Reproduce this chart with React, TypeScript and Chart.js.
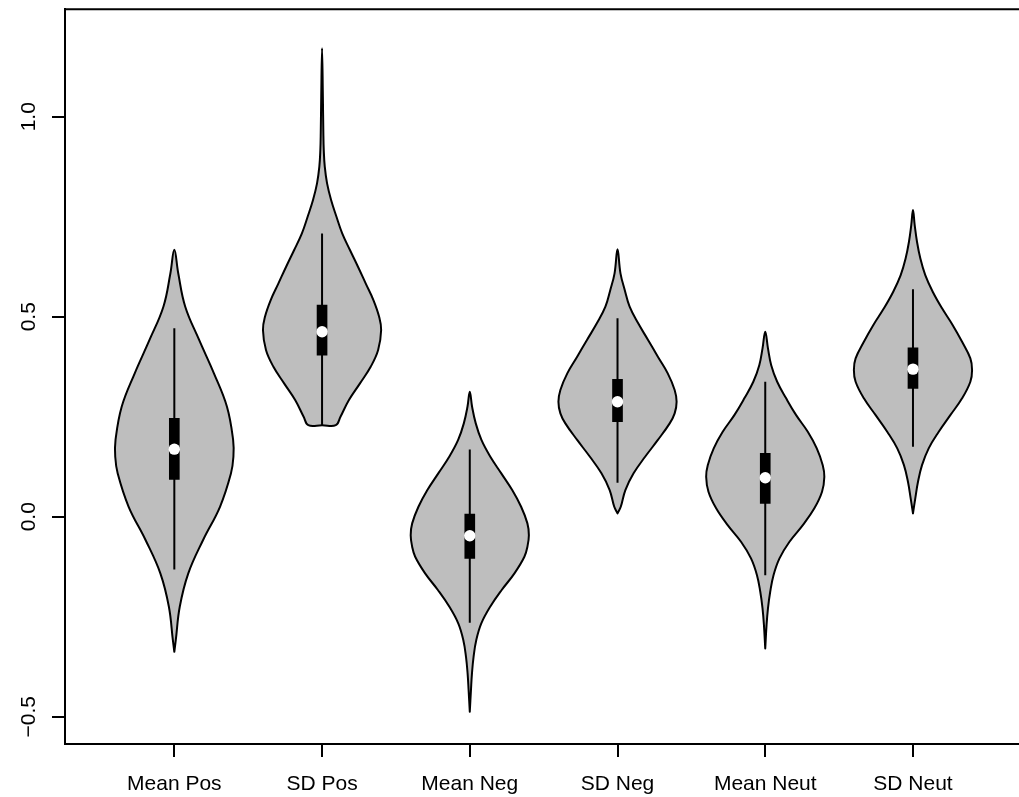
import { useEffect, useRef } from "react";
import { Chart, registerables } from "chart.js";

Chart.register(...registerables);

// ---------------- data ----------------
const categories = ["Mean Pos", "SD Pos", "Mean Neg", "SD Neg", "Mean Neut", "SD Neut"];
const xTickValues = [1, 2, 3, 4, 5, 6];
const yTickValues = [-0.5, 0, 0.5, 1.0];
const yTickLabels = ["\u22120.5", "0.0", "0.5", "1.0"];

// violin outlines: values (top to bottom) and relative density (0..1)
const meanPosY = [0.6675, 0.608, 0.525, 0.442, 0.358, 0.275, 0.192, 0.15, 0.108, 0.025, -0.058, -0.142, -0.225, -0.308, -0.3375];
const meanPosDensity = [0, 0.067, 0.185, 0.42, 0.672, 0.891, 0.995, 1.0, 0.958, 0.773, 0.487, 0.235, 0.092, 0.025, 0];

const sdPosY = [1.171, 1.05, 0.96, 0.917, 0.875, 0.8335, 0.792, 0.75, 0.7085, 0.6668, 0.625, 0.5835, 0.5418, 0.5, 0.4668, 0.4168, 0.375, 0.3335, 0.2918, 0.25, 0.229];
const sdPosDensity = [0, 0.014, 0.022, 0.029, 0.046, 0.085, 0.153, 0.244, 0.341, 0.472, 0.608, 0.738, 0.869, 0.966, 1.0, 0.949, 0.823, 0.642, 0.455, 0.312, 0.233];

const meanNegY = [0.3125, 0.275, 0.2335, 0.192, 0.15, 0.1085, 0.0668, 0.025, -0.0165, -0.046, -0.075, -0.1, -0.1415, -0.183, -0.225, -0.2665, -0.308, -0.35, -0.3915, -0.433, -0.4875];
const meanNegDensity = [0, 0.039, 0.101, 0.197, 0.348, 0.533, 0.718, 0.869, 0.975, 1.0, 0.975, 0.924, 0.756, 0.54, 0.345, 0.195, 0.11, 0.064, 0.037, 0.02, 0];

const sdNegY = [0.6685, 0.6085, 0.567, 0.525, 0.4835, 0.442, 0.4, 0.3585, 0.317, 0.2875, 0.2585, 0.2335, 0.192, 0.15, 0.1085, 0.0668, 0.025, 0.0085];
const sdNegDensity = [0, 0.05, 0.122, 0.205, 0.35, 0.517, 0.683, 0.85, 0.967, 1.0, 0.967, 0.883, 0.683, 0.467, 0.272, 0.133, 0.055, 0];

const meanNeutY = [0.4625, 0.421, 0.379, 0.3375, 0.296, 0.254, 0.2125, 0.171, 0.129, 0.1, 0.0625, 0.021, -0.021, -0.0625, -0.104, -0.146, -0.1875, -0.229, -0.271, -0.329];
const meanNeutDensity = [0, 0.046, 0.101, 0.202, 0.354, 0.523, 0.72, 0.872, 0.973, 1.0, 0.961, 0.831, 0.636, 0.41, 0.241, 0.14, 0.084, 0.046, 0.022, 0];

const sdNeutY = [0.7667, 0.729, 0.6875, 0.646, 0.604, 0.5625, 0.521, 0.479, 0.4375, 0.396, 0.367, 0.3375, 0.296, 0.254, 0.2125, 0.171, 0.129, 0.0875, 0.046, 0.0085];
const sdNeutDensity = [0, 0.029, 0.068, 0.124, 0.208, 0.334, 0.492, 0.673, 0.831, 0.971, 1.0, 0.971, 0.831, 0.632, 0.436, 0.266, 0.153, 0.085, 0.039, 0];

// box-plot statistics per category
const q1 = [0.0935, 0.404, -0.104, 0.2375, 0.0335, 0.321];
const q3 = [0.246, 0.529, 0.0067, 0.3435, 0.1585, 0.4225];
const medians = [0.169, 0.4625, -0.0475, 0.2875, 0.0975, 0.369];
const whiskerLow = [-0.1317, 0.229, -0.265, 0.085, -0.146, 0.175];
const whiskerHigh = [0.471, 0.708, 0.1683, 0.496, 0.3375, 0.5685];

// ---------------- helpers ----------------
const violinYs = [meanPosY, sdPosY, meanNegY, sdNegY, meanNeutY, sdNeutY];
const violinDensities = [meanPosDensity, sdPosDensity, meanNegDensity, sdNegDensity, meanNeutDensity, sdNeutDensity];
const HALF_WIDTH = 0.4; // max half width in category units

function outline(center: number, ys: number[], dens: number[]) {
  const n = ys.length;
  const pts: { x: number; y: number }[] = [];
  if (dens[n - 1] > 0) pts.push({ x: center, y: ys[n - 1] });
  for (let i = n - 1; i >= 0; i--) pts.push({ x: center + HALF_WIDTH * dens[i], y: ys[i] });
  for (let i = 1; i < n; i++) pts.push({ x: center - HALF_WIDTH * dens[i], y: ys[i] });
  if (dens[n - 1] > 0) pts.push({ x: center, y: ys[n - 1] });
  return pts;
}

const FONT = '21px "Liberation Sans", Arial, Helvetica, sans-serif';
const LW = 2;

const axisTextPlugin = {
  id: "axisText",
  afterDraw(chart: any) {
    const { ctx, chartArea, scales } = chart;
    ctx.save();
    ctx.strokeStyle = "#000";
    ctx.lineWidth = LW;
    ctx.beginPath();
    ctx.moveTo(chartArea.left - 1, chartArea.top);
    ctx.lineTo(chartArea.right, chartArea.top);
    ctx.stroke();
    ctx.fillStyle = "#000";
    ctx.font = FONT;
    ctx.textAlign = "center";
    ctx.textBaseline = "alphabetic";
    categories.forEach((c, i) => {
      ctx.fillText(c, scales.x.getPixelForValue(xTickValues[i]), chartArea.bottom + 46);
    });
    yTickValues.forEach((v, i) => {
      const py = scales.y.getPixelForValue(v);
      ctx.save();
      ctx.translate(chartArea.left - 30.5, py);
      ctx.rotate(-Math.PI / 2);
      ctx.fillText(yTickLabels[i], 0, 0);
      ctx.restore();
    });
    ctx.restore();
  },
};

export default function App() {
  const ref = useRef<HTMLCanvasElement | null>(null);

  useEffect(() => {
    if (!ref.current) return;
    const datasets: any[] = [];

    violinYs.forEach((ys, i) => {
      datasets.push({
        type: "line",
        label: categories[i],
        data: outline(xTickValues[i], ys, violinDensities[i]),
        borderColor: "#000",
        borderWidth: LW,
        backgroundColor: "#BEBEBE",
        fill: "shape",
        tension: 0.4,
        pointRadius: 0,
        borderJoinStyle: "round",
        borderCapStyle: "round",
        order: 4,
      });
    });

    categories.forEach((c, i) => {
      datasets.push({
        type: "line",
        label: c + " whisker",
        data: [
          { x: xTickValues[i], y: whiskerLow[i] },
          { x: xTickValues[i], y: whiskerHigh[i] },
        ],
        borderColor: "#000",
        borderWidth: LW,
        pointRadius: 0,
        fill: false,
        order: 3,
      });
    });

    datasets.push({
      type: "bar",
      label: "IQR",
      data: categories.map((_, i) => ({ x: xTickValues[i], y: [q1[i], q3[i]] })),
      backgroundColor: "#000",
      borderWidth: 0,
      barThickness: 10,
      grouped: false,
      order: 2,
    });

    datasets.push({
      type: "scatter",
      label: "median",
      data: categories.map((_, i) => ({ x: xTickValues[i], y: medians[i] })),
      backgroundColor: "#fff",
      borderColor: "#fff",
      borderWidth: 0,
      pointRadius: 5.7,
      order: 1,
    });

    const chart = new Chart(ref.current, {
      type: "scatter",
      data: { datasets },
      options: {
        animation: false,
        responsive: false,
        devicePixelRatio: 1,
        layout: { padding: { top: 9.3, left: 0, right: 0, bottom: 0 } },
        plugins: { legend: { display: false }, tooltip: { enabled: false } },
        scales: {
          x: {
            type: "linear",
            min: 0.26,
            max: 6.74,
            offset: false,
            afterBuildTicks: (s: any) => {
              s.ticks = xTickValues.map((v) => ({ value: v }));
            },
            afterFit: (s: any) => {
              s.height = 53;
            },
            ticks: { display: false },
            grid: { display: true, offset: false, drawOnChartArea: false, drawTicks: true, tickLength: 13, color: "#000", lineWidth: LW },
            border: { display: true, color: "#000", width: LW },
          },
          y: {
            type: "linear",
            min: -0.568,
            max: 1.2685,
            afterBuildTicks: (s: any) => {
              s.ticks = yTickValues.map((v) => ({ value: v }));
            },
            afterFit: (s: any) => {
              s.width = 65;
            },
            ticks: { display: false },
            grid: { display: true, offset: false, drawOnChartArea: false, drawTicks: true, tickLength: 13, color: "#000", lineWidth: LW },
            border: { display: true, color: "#000", width: LW },
          },
        },
      } as any,
      plugins: [axisTextPlugin],
    });
    return () => chart.destroy();
  }, []);

  return (
    <div style={{ position: "absolute", left: 0, top: 0, width: 1019, height: 797, overflow: "hidden", background: "#fff" }}>
      <canvas ref={ref} width={1028} height={797} style={{ width: 1028, height: 797, display: "block" }} />
    </div>
  );
}
